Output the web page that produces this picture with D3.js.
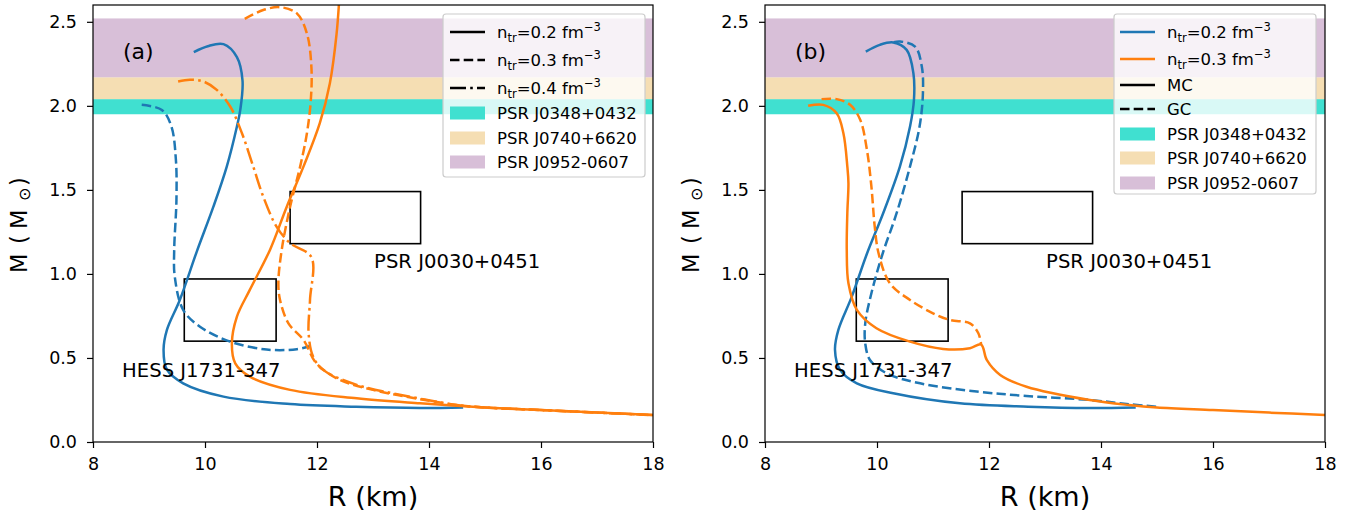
<!DOCTYPE html>
<html><head><meta charset="utf-8">
<script src="https://cdn.jsdelivr.net/npm/d3@7"></script>
<style>body{margin:0;background:#fff}svg{display:block;font-family:"DejaVu Sans",sans-serif}</style>
</head><body>
<svg id="c" width="1351" height="510"></svg>
<script>
const xTicks=[8,10,12,14,16,18];
const yTicks=[0,0.5,1.0,1.5,2.0,2.5];
const bands=[
 {name:"PSR J0348+0432",lo:1.95,hi:2.04,color:"#40e0d0"},
 {name:"PSR J0740+6620",lo:2.04,hi:2.17,color:"#f5deb3"},
 {name:"PSR J0952-0607",lo:2.17,hi:2.52,color:"#d8bfd8"}];
const boxJ0030={r0:11.52,r1:13.85,m0:1.18,m1:1.49,label:"PSR J0030+0451",lr:13.02,lm:1.034};
const boxHESS={r0:9.63,r1:11.27,m0:0.60,m1:0.97,label:"HESS J1731-347",lr:8.52,lm:0.389};
// panel (a)
const aBlueSolid=[[9.80,2.32],[10.05,2.355],[10.33,2.367],[10.57,2.29],[10.67,2.15],[10.63,1.976],[10.57,1.877],[10.39,1.64],[10.15,1.40],[9.85,1.13],[9.55,0.845],[9.32,0.667],[9.26,0.548],[9.32,0.43],[9.61,0.349],[10.33,0.27],[11.52,0.226],[12.7,0.21],[13.84,0.203],[14.61,0.206]];
const aBlueDashed=[[8.87,2.006],[9.23,1.976],[9.40,1.877],[9.48,1.68],[9.49,1.44],[9.45,1.143],[9.46,0.984],[9.61,0.786],[9.91,0.686],[10.45,0.597],[11.10,0.550],[11.64,0.552],[11.87,0.57]];
const aOrangeSolid=[[12.40,2.65],[12.35,2.43],[12.23,2.135],[12.05,1.897],[11.76,1.64],[11.46,1.40],[11.16,1.143],[10.80,0.905],[10.57,0.746],[10.48,0.587],[10.54,0.468],[10.80,0.389],[11.52,0.31],[12.71,0.26],[13.84,0.23],[14.5,0.215],[15,0.205],[16,0.19],[17,0.175],[18,0.16]];
const aOrangeDashed=[[10.71,2.518],[11.04,2.57],[11.34,2.587],[11.64,2.55],[11.82,2.43],[11.90,2.23],[11.89,2.036],[11.82,1.837],[11.70,1.64],[11.52,1.40],[11.37,1.143],[11.31,0.944],[11.34,0.845],[11.49,0.706],[11.76,0.607],[11.99,0.468],[12.41,0.369],[13.0,0.31],[13.84,0.255],[14.5,0.22],[15,0.205],[16,0.19],[17,0.175],[18,0.16]];
const aOrangeDashDot=[[9.52,2.145],[9.73,2.155],[9.97,2.145],[10.21,2.095],[10.45,1.996],[10.66,1.837],[10.86,1.64],[11.04,1.46],[11.28,1.28],[11.52,1.183],[11.90,1.10],[11.875,0.845],[11.85,0.647],[11.93,0.508],[12.11,0.429],[12.71,0.34],[13.5,0.28],[14.5,0.22],[15,0.205],[16,0.19],[17,0.175],[18,0.16]];
// panel (b)
const bBlueMC=[[9.80,2.323],[10.05,2.363],[10.29,2.377],[10.53,2.333],[10.65,2.194],[10.66,2.036],[10.59,1.877],[10.41,1.64],[10.11,1.361],[9.82,1.12],[9.55,0.865],[9.31,0.667],[9.25,0.548],[9.34,0.429],[9.64,0.349],[10.29,0.29],[11.48,0.23],[12.7,0.21],[13.80,0.202],[14.62,0.206]];
const bBlueGC=[[10.30,2.378],[10.41,2.383],[10.68,2.353],[10.80,2.234],[10.82,2.075],[10.76,1.877],[10.59,1.64],[10.35,1.361],[10.10,1.12],[9.90,0.885],[9.79,0.706],[9.79,0.587],[9.875,0.488],[10.17,0.409],[10.77,0.349],[11.78,0.30],[12.67,0.274],[13.80,0.25],[14.5,0.225],[15,0.21]];
const bOrangeMC=[[8.77,2.0],[9.04,2.006],[9.28,1.956],[9.40,1.837],[9.47,1.64],[9.49,1.54],[9.47,1.361],[9.46,1.143],[9.49,0.944],[9.64,0.786],[9.99,0.677],[10.59,0.597],[11.18,0.554],[11.66,0.558],[11.86,0.58],[11.96,0.488],[12.20,0.399],[12.67,0.329],[13.80,0.25],[14.5,0.22],[15,0.205],[16,0.19],[17,0.175],[18,0.16]];
const bOrangeGC=[[9.01,2.04],[9.28,2.04],[9.52,2.006],[9.70,1.917],[9.82,1.738],[9.90,1.52],[9.96,1.28],[10.03,1.12],[10.23,0.944],[10.59,0.845],[11.0,0.766],[11.30,0.726],[11.66,0.706],[11.81,0.647],[11.86,0.58]];

const C_BLUE="#1f77b4", C_OR="#ff7f0e";
const LW=2.5, DASH="9.5,4.2", DASHDOT="16,4.2,2.6,4.2";
const svg=d3.select("#c");
const yS=d3.scaleLinear().domain([0,2.6]).range([442,5]);

function panel(x0,tag,curves,legend){
  const xS=d3.scaleLinear().domain([8,18]).range([x0,x0+560]);
  const g=svg.append("g");
  const cid="clip"+tag;
  svg.append("defs").append("clipPath").attr("id",cid).append("rect").attr("x",x0).attr("y",5).attr("width",560).attr("height",437);
  const pg=g.append("g").attr("clip-path",`url(#${cid})`);
  bands.forEach(b=>pg.append("rect").attr("x",x0).attr("width",560).attr("y",yS(b.hi)).attr("height",yS(b.lo)-yS(b.hi)).attr("fill",b.color));
  [boxJ0030,boxHESS].forEach(b=>{
    pg.append("rect").attr("x",xS(b.r0)).attr("y",yS(b.m1)).attr("width",xS(b.r1)-xS(b.r0)).attr("height",yS(b.m0)-yS(b.m1)).attr("fill","none").attr("stroke","#000").attr("stroke-width",1.6);
    g.append("text").attr("x",xS(b.lr)).attr("y",yS(b.lm)).attr("font-size",19.6).text(b.label);
  });
  const line=d3.line().x(d=>xS(d[0])).y(d=>yS(d[1])).curve(d3.curveCatmullRom.alpha(0.5));
  curves.forEach(c=>pg.append("path").attr("d",line(c.data)).attr("fill","none").attr("stroke",c.color).attr("stroke-width",LW).attr("stroke-dasharray",c.dash||null));
  const ax=g.append("g").attr("transform","translate(0,442)").call(d3.axisBottom(xS).tickValues(xTicks).tickFormat(d3.format("d")).tickSizeOuter(0).tickSize(6).tickPadding(10));
  const ay=g.append("g").attr("transform",`translate(${x0},0)`).call(d3.axisLeft(yS).tickValues(yTicks).tickFormat(d3.format(".1f")).tickSizeOuter(0).tickSize(6).tickPadding(10));
  [ax,ay].forEach(a=>{a.select(".domain").remove();a.selectAll("text").attr("font-size",17.5).attr("font-family","DejaVu Sans").attr("fill","#000");a.selectAll("line").attr("stroke","#000").attr("stroke-width",1.2);});
  g.append("rect").attr("x",x0).attr("y",5).attr("width",560).attr("height",437).attr("fill","none").attr("stroke","#000").attr("stroke-width",1.2);
  g.append("text").attr("x",xS(8.536)).attr("y",yS(2.28)).attr("font-size",22).text(tag==="a"?"(a)":"(b)");
  g.append("text").attr("x",x0+280).attr("y",505.5).attr("text-anchor","middle").attr("font-size",27).text("R (km)");
  const yl=g.append("text").attr("transform",`translate(${x0-66},273) rotate(-90)`).attr("font-size",22.5);
  yl.append("tspan").attr("x",0).text("M");
  yl.append("tspan").attr("x",29).text("(");
  yl.append("tspan").attr("x",44).text("M");
  yl.append("tspan").attr("x",72).attr("dy",3).attr("font-size",16).text("⊙");
  yl.append("tspan").attr("x",87).attr("dy",-3).text(")");
  const L=legend;
  g.append("rect").attr("x",L.x).attr("y",L.y).attr("width",L.w).attr("height",L.h).attr("rx",3).attr("fill","rgba(255,255,255,0.8)").attr("stroke","#cccccc").attr("stroke-width",1.2);
  L.items.forEach((it,i)=>{
    const yy=L.rows[i];
    if(it.kind==="line"){
      g.append("line").attr("x1",L.lx).attr("x2",L.lx+35).attr("y1",yy).attr("y2",yy).attr("stroke",it.color).attr("stroke-width",LW).attr("stroke-dasharray",it.dash||null);
    } else {
      g.append("rect").attr("x",L.lx).attr("y",yy-6.5).attr("width",35).attr("height",13).attr("fill",it.color);
    }
    const t=g.append("text").attr("x",L.lx+47).attr("y",yy+6).attr("font-size",16.5);
    if(it.n){
      t.append("tspan").text("n");
      t.append("tspan").attr("font-size",11.5).attr("dy",3.5).text("tr");
      t.append("tspan").attr("dy",-3.5).text("="+it.n+" fm");
      t.append("tspan").attr("font-size",11.5).attr("dy",-7).text("−3");
    } else t.text(it.label);
  });
}
const ntr=["0.2","0.3","0.4"];
panel(93,"a",[
 {data:aBlueSolid,color:C_BLUE},{data:aBlueDashed,color:C_BLUE,dash:DASH},
 {data:aOrangeSolid,color:C_OR},{data:aOrangeDashed,color:C_OR,dash:DASH},{data:aOrangeDashDot,color:C_OR,dash:DASHDOT}],
 {x:443,y:14,w:202,h:163,lx:450,rows:[32,60,88,113,138,162],items:[
  {kind:"line",color:"#000",n:ntr[0]},{kind:"line",color:"#000",dash:DASH,n:ntr[1]},{kind:"line",color:"#000",dash:DASHDOT,n:ntr[2]},
  {kind:"patch",color:bands[0].color,label:bands[0].name},{kind:"patch",color:bands[1].color,label:bands[1].name},{kind:"patch",color:bands[2].color,label:bands[2].name}]});
panel(765,"b",[
 {data:bBlueMC,color:C_BLUE},{data:bBlueGC,color:C_BLUE,dash:DASH},
 {data:bOrangeMC,color:C_OR},{data:bOrangeGC,color:C_OR,dash:DASH}],
 {x:1114,y:14,w:202,h:180,lx:1120,rows:[32,59,85,109,134,158,183],items:[
  {kind:"line",color:C_BLUE,n:ntr[0]},{kind:"line",color:C_OR,n:ntr[1]},{kind:"line",color:"#000",label:"MC"},{kind:"line",color:"#000",dash:DASH,label:"GC"},
  {kind:"patch",color:bands[0].color,label:bands[0].name},{kind:"patch",color:bands[1].color,label:bands[1].name},{kind:"patch",color:bands[2].color,label:bands[2].name}]});
</script>
</body></html>
